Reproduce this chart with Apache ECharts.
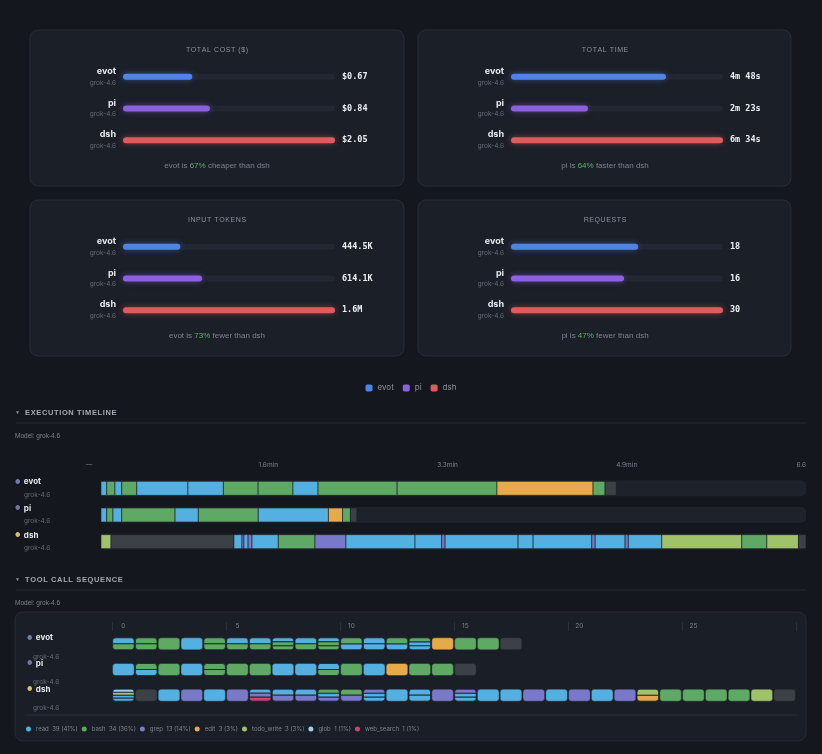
<!DOCTYPE html>
<html lang="en">
<head>
<meta charset="UTF-8">
<title>Agent comparison</title>
<script src="https://cdn.jsdelivr.net/npm/echarts@6/dist/echarts.min.js"></script>
<style>
html,body{margin:0;padding:0;background:#14171d;}
#main{width:822px;height:754px;}
</style>
</head>
<body>
<div id="main"></div>
<script>
// agents and model
var agents = ['evot', 'pi', 'dsh'];
var modelName = 'grok-4.6';

// summary metrics
var costUsd = [0.67, 0.84, 2.05];
var timeSec = [288, 143, 394];
var inputTokensK = [444.5, 614.1, 1645];
var requestCount = [18, 16, 30];

var toolNames = ['read', 'bash', 'grep', 'edit', 'todo_write', 'glob', 'web_search'];

// execution timeline: tool of each segment and the second it ends at
var evotSegTools = ['read', 'bash', 'read', 'bash', 'read', 'read', 'bash', 'bash', 'read', 'bash', 'bash', 'edit', 'bash', 'none'];
var evotSegEnds = [3.2, 7.8, 11.6, 20, 48.6, 68.4, 87.8, 107.3, 121.3, 165.5, 221.3, 275, 281.7, 288];
var piSegTools = ['read', 'bash', 'read', 'bash', 'read', 'bash', 'read', 'edit', 'bash', 'none'];
var piSegEnds = [3.2, 6.7, 11.6, 41.4, 54.4, 87.9, 127.1, 135, 139.4, 143];
var dshSegTools = ['todo_write', 'none', 'read', 'grep', 'read', 'grep', 'read', 'bash', 'grep', 'read', 'read', 'grep',
    'read', 'read', 'read', 'grep', 'read', 'grep', 'read', 'todo_write', 'bash', 'todo_write', 'none'];
var dshSegEnds = [5.6, 74.3, 78.8, 79.9, 82.2, 84.4, 99.1, 119.6, 136.9, 175.5, 190.4, 192.3,
    233.1, 241.5, 274.3, 276.2, 292.9, 294.7, 313.4, 358.1, 372.1, 389.8, 394];

// tool call sequence: one entry per request, parallel calls joined by '+'
var evotCalls = ['read+bash', 'bash+bash', 'bash', 'read', 'bash+bash', 'read+bash', 'read+bash', 'read+bash+bash', 'read+bash',
    'read+bash+bash', 'bash+read', 'read+read', 'bash+read', 'bash+read+read', 'edit', 'bash', 'bash', 'none'];
var piCalls = ['read', 'bash+read', 'bash', 'read', 'bash+bash', 'bash', 'bash', 'read', 'read', 'read+bash', 'bash', 'read',
    'edit', 'bash', 'bash', 'none'];
var dshCalls = ['glob+todo_write+read+read', 'none', 'read', 'grep', 'read', 'grep', 'read+grep+web_search', 'read+grep', 'read+grep',
    'bash+read+grep', 'bash+grep', 'grep+read+read', 'read', 'read+read', 'grep', 'grep+read+read', 'read', 'read', 'grep', 'read',
    'grep', 'read', 'grep', 'todo_write+edit', 'bash', 'bash', 'bash', 'bash', 'todo_write', 'none'];
var seqSlots = ['0','1','2','3','4','5','6','7','8','9','10','11','12','13','14','15','16','17','18','19','20','21','22','23','24','25','26','27','28','29'];

// colours
var agentColors = ['#4f84e2', '#8c60e0', '#e05c5c'];
var agentDots = ['#6b7fae', '#7f6db3', '#d9bd6a'];
var toolColors = {
    read: '#55b0e2', bash: '#5ea963', grep: '#7a78c9', edit: '#e8a94b',
    todo_write: '#9fc26b', glob: '#a3cfee', web_search: '#cc4470', none: '#3c4047'
};
var txtGrey = '#7d838e';

function fmtCost(v) { return '$' + v.toFixed(2); }
function fmtTime(s) { return Math.floor(s / 60) + 'm ' + (s % 60) + 's'; }
function fmtTok(k) { return k >= 1000 ? (k / 1000).toFixed(1) + 'M' : k.toFixed(1) + 'K'; }
function spaced(s) { return s.split('').join('\u200A'); }

var cards = [
    {title: 'TOTAL COST ($)', values: costUsd, fmt: fmtCost, word: 'cheaper', x: 30, y: 30},
    {title: 'TOTAL TIME', values: timeSec, fmt: fmtTime, word: 'faster', x: 418, y: 30},
    {title: 'INPUT TOKENS', values: inputTokensK, fmt: fmtTok, word: 'fewer', x: 30, y: 200},
    {title: 'REQUESTS', values: requestCount, fmt: String, word: 'fewer', x: 418, y: 200}
];

var myChart = echarts.init(document.getElementById('main'));

var grids = [], xAxes = [], yAxes = [], series = [], graphics = [];

var nameRich = {
    n: {fontSize: 9, fontWeight: 'bold', color: '#e6e9ee', lineHeight: 12},
    m: {fontSize: 6.5, color: '#656b76', lineHeight: 11}
};

// ---- four summary cards
cards.forEach(function (c, i) {
    var max = Math.max.apply(null, c.values);
    var lo = c.values.indexOf(Math.min.apply(null, c.values));
    var hi = c.values.indexOf(max);
    var pct = Math.round((1 - c.values[lo] / max) * 100);

    graphics.push({type: 'rect', shape: {x: c.x, y: c.y, width: i % 2 ? 373 : 374, height: 156, r: 8},
        style: {fill: '#1b1f28', stroke: '#282d37', lineWidth: 1}});
    graphics.push({type: 'text', x: c.x + 187, y: c.y + 20,
        style: {text: spaced(c.title), fill: '#8b919d', fontSize: 7, align: 'center', verticalAlign: 'middle'}});
    graphics.push({type: 'text', x: c.x + 187, y: c.y + 136,
        style: {text: '{t|' + agents[lo] + ' is }{g|' + pct + '%}{t| ' + c.word + ' than ' + agents[hi] + '}',
            align: 'center', verticalAlign: 'middle',
            rich: {t: {fill: '#7d838e', fontSize: 8}, g: {fill: '#58b368', fontSize: 8}}}});

    grids.push({left: c.x + 93, top: c.y + 31, width: 212, height: 95});
    xAxes.push({gridIndex: i, type: 'value', min: 0, max: max, show: false});
    yAxes[2 * i] = {gridIndex: i, type: 'category', data: agents, inverse: true,
        axisLine: {show: false}, axisTick: {show: false},
        axisLabel: {margin: 7, align: 'right', formatter: function (v) { return '{n|' + v + '}\n{m|' + modelName + '}'; }, rich: nameRich}};
    yAxes[2 * i + 1] = {gridIndex: i, type: 'category', position: 'right', data: c.values.map(c.fmt), inverse: true,
        axisLine: {show: false}, axisTick: {show: false},
        axisLabel: {margin: 7, fontFamily: 'DejaVu Sans Mono', fontWeight: 'bold', fontSize: 8.5, color: '#eef0f3'}};

    series.push({type: 'bar', xAxisIndex: i, yAxisIndex: 2 * i, data: [max, max, max], barWidth: 6, barGap: '-100%',
        silent: true, itemStyle: {color: '#222732', borderRadius: 3}, z: 1});
    agents.forEach(function (a, j) {
        series.push({name: a, type: 'bar', xAxisIndex: i, yAxisIndex: 2 * i, barWidth: 6, barGap: '-100%', z: 2,
            data: c.values.map(function (v, k) { return k === j ? v : '-'; }),
            itemStyle: {color: agentColors[j], borderRadius: 3, shadowBlur: 6, shadowColor: agentColors[j] + '80'}});
    });
});

// ---- section headers
function header(y, title) {
    graphics.push({type: 'text', x: 15, y: y, style: {text: '▼', fill: '#8b919d', fontSize: 5, verticalAlign: 'middle'}});
    graphics.push({type: 'text', x: 25, y: y, style: {text: spaced(title), fill: '#a3a9b3', fontSize: 7.5, fontWeight: 'bold', verticalAlign: 'middle'}});
    graphics.push({type: 'line', shape: {x1: 16, y1: y + 10, x2: 806, y2: y + 10}, style: {stroke: '#262b34', lineWidth: 1}});
    graphics.push({type: 'text', x: 15, y: y + 23, style: {text: 'Model: ' + modelName, fill: txtGrey, fontSize: 6.5, verticalAlign: 'middle'}});
}
header(413, 'EXECUTION TIMELINE');
header(580, 'TOOL CALL SEQUENCE');

// ---- execution timeline
var tlMax = Math.max.apply(null, timeSec);
grids.push({left: 89, right: 16, top: 471, height: 1});   // 4: time labels
grids.push({left: 101, right: 16, top: 475, height: 80}); // 5: bars
xAxes.push({gridIndex: 4, type: 'value', position: 'top', min: 0, max: tlMax, interval: tlMax / 4,
    axisLine: {show: false}, axisTick: {show: false}, splitLine: {show: false},
    axisLabel: {fontSize: 6.5, color: txtGrey, margin: 2, alignMaxLabel: 'right',
        formatter: function (v) { return v === 0 ? '—' : v === tlMax ? (v / 60).toFixed(1) : (v / 60).toFixed(1) + 'min'; }}});
xAxes.push({gridIndex: 5, type: 'value', min: 0, max: tlMax, show: false});
yAxes[8] = {gridIndex: 4, type: 'value', show: false};

function rowLabel(v, i) {
    return '{d' + i + '|●} {n|' + v + '}\n{m|' + modelName + '}';
}
var rowRich = {
    d0: {color: agentDots[0], fontSize: 6}, d1: {color: agentDots[1], fontSize: 6}, d2: {color: agentDots[2], fontSize: 6},
    n: {fontSize: 8, fontWeight: 'bold', color: '#e6e9ee', lineHeight: 13},
    m: {fontSize: 6.5, color: '#656b76', lineHeight: 13, padding: [0, 0, 0, 9]}
};
yAxes[9] = {gridIndex: 5, type: 'category', data: agents, inverse: true, axisLine: {show: false}, axisTick: {show: false},
    axisLabel: {align: 'left', margin: 86, interval: 0, formatter: rowLabel, rich: rowRich}};
series.push({type: 'scatter', xAxisIndex: 4, yAxisIndex: 8, data: []});
series.push({type: 'bar', xAxisIndex: 5, yAxisIndex: 9, data: [tlMax, tlMax, tlMax], barWidth: 16, silent: true,
    itemStyle: {color: '#1e222a', borderRadius: 5}});

var tlData = [];
[[evotSegTools, evotSegEnds], [piSegTools, piSegEnds], [dshSegTools, dshSegEnds]].forEach(function (r, row) {
    var start = 0;
    r[0].forEach(function (t, k) {
        tlData.push({value: [start, r[1][k], row], itemStyle: {color: toolColors[t]}});
        start = r[1][k];
    });
});
series.push({type: 'custom', xAxisIndex: 5, yAxisIndex: 9, data: tlData, encode: {x: [0, 1], y: 2}, z: 3,
    renderItem: function (params, api) {
        var p0 = api.coord([api.value(0), api.value(2)]);
        var p1 = api.coord([api.value(1), api.value(2)]);
        return {type: 'rect', shape: {x: p0[0], y: p0[1] - 7, width: p1[0] - p0[0], height: 14},
            style: {fill: api.visual('color'), stroke: '#191c23', lineWidth: 0.6}};
    }});

// ---- tool call sequence
graphics.push({type: 'rect', shape: {x: 15, y: 612, width: 791, height: 129, r: 8},
    style: {fill: '#1a1e27', stroke: '#262b35', lineWidth: 1}});
graphics.push({type: 'line', shape: {x1: 25, y1: 715, x2: 797, y2: 715}, style: {stroke: '#272c36', lineWidth: 1}});

grids.push({left: 112, right: 26, top: 631, height: 77}); // 6
xAxes.push({gridIndex: 6, type: 'category', position: 'top', data: seqSlots,
    axisLine: {show: false},
    axisTick: {show: true, interval: 4, length: 9, lineStyle: {color: '#2b303a'}},
    axisLabel: {interval: 4, fontSize: 6.5, color: txtGrey, margin: 1}});
yAxes[10] = {gridIndex: 6, type: 'category', data: agents, inverse: true, axisLine: {show: false}, axisTick: {show: false},
    axisLabel: {align: 'left', margin: 85, interval: 0, hideOverlap: false, padding: [14, 0, 0, 0], formatter: function (v, i) {
        return '{d' + i + '|●} {n|' + v + '}\n{m|' + modelName + '}';
    }, rich: {
        d0: rowRich.d0, d1: rowRich.d1, d2: rowRich.d2,
        n: {fontSize: 8, fontWeight: 'bold', color: '#e6e9ee', lineHeight: 12},
        m: {fontSize: 6.5, color: '#656b76', lineHeight: 26, padding: [0, 0, 0, 6]}
    }}};

var toolCount = {};
var cellData = {};
toolNames.concat(['none']).forEach(function (t) { toolCount[t] = 0; cellData[t] = []; });
[evotCalls, piCalls, dshCalls].forEach(function (calls, row) {
    calls.forEach(function (c, idx) {
        var parts = c.split('+');
        parts.forEach(function (t, k) {
            toolCount[t]++;
            cellData[t].push([idx, row, k, parts.length]);
        });
    });
});
var totalCalls = toolNames.reduce(function (s, t) { return s + toolCount[t]; }, 0);

function renderCell(params, api) {
    var p = api.coord([api.value(0), api.value(1)]);
    var w = api.size([1, 0])[0] - 1.2;
    var H = 12, n = api.value(3), k = api.value(2);
    var h = H / n;
    var r = n === 1 ? 3 : (k === 0 ? [3, 3, 0, 0] : (k === n - 1 ? [0, 0, 3, 3] : 0));
    return {type: 'rect', shape: {x: p[0] - w / 2, y: p[1] - H / 2 + k * h, width: w, height: h, r: r},
        style: {fill: api.visual('color'), stroke: '#1a1e27', lineWidth: n > 1 ? 0.8 : 0.4}};
}
toolNames.concat(['none']).forEach(function (t) {
    series.push({name: t === 'none' ? undefined : t, type: 'custom', xAxisIndex: 6, yAxisIndex: 10,
        data: cellData[t], encode: {x: 0, y: 1}, itemStyle: {color: toolColors[t]}, renderItem: renderCell});
});

myChart.setOption({
    backgroundColor: '#14171d',
    animation: false,
    textStyle: {fontFamily: 'Inter, "Noto Sans", sans-serif'},
    legend: [
        {data: agents, top: 379, left: 'center', icon: 'roundRect', itemWidth: 7, itemHeight: 7, itemGap: 9,
            textStyle: {color: '#8b919d', fontSize: 8}},
        {data: toolNames, top: 721, left: 21, icon: 'circle', itemWidth: 5, itemHeight: 5, itemGap: 4,
            textStyle: {color: txtGrey, fontSize: 6}, selectedMode: false,
            formatter: function (name) {
                return name + '  ' + toolCount[name] + ' (' + Math.round(toolCount[name] / totalCalls * 100) + '%)';
            }}
    ],
    grid: grids,
    xAxis: xAxes,
    yAxis: yAxes,
    graphic: {elements: graphics},
    series: series
});
</script>
</body>
</html>
